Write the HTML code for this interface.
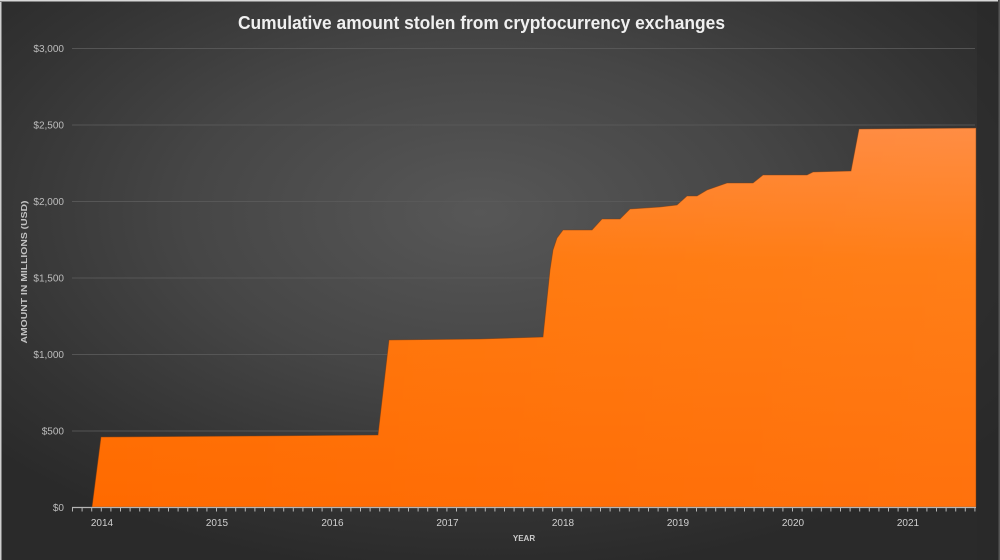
<!DOCTYPE html>
<html>
<head>
<meta charset="utf-8">
<style>
  html,body{margin:0;padding:0;background:#2e2e2e;}
  svg{display:block;}
  text{font-family:"Liberation Sans",sans-serif;}
</style>
</head>
<body>
<svg width="1000" height="560" viewBox="0 0 1000 560" xmlns="http://www.w3.org/2000/svg">
  <defs>
    <radialGradient id="bg" cx="48%" cy="38%" r="65%" fx="48%" fy="38%">
      <stop offset="0%" stop-color="#575757"/>
      <stop offset="45%" stop-color="#464646"/>
      <stop offset="80%" stop-color="#333333"/>
      <stop offset="100%" stop-color="#2a2a2a"/>
    </radialGradient>
    <linearGradient id="org" x1="0" y1="128" x2="0" y2="507" gradientUnits="userSpaceOnUse">
      <stop offset="0%" stop-color="#ff873a"/>
      <stop offset="35%" stop-color="#ff780c"/>
      <stop offset="100%" stop-color="#ff6a00"/>
    </linearGradient>
    <linearGradient id="shine" x1="0" y1="0" x2="1" y2="0">
      <stop offset="0%" stop-color="#ffffff" stop-opacity="0"/>
      <stop offset="100%" stop-color="#ffffff" stop-opacity="0.05"/>
    </linearGradient>
  </defs>

  <rect x="0" y="0" width="1000" height="560" fill="url(#bg)"/>
  <rect x="977" y="0" width="23" height="560" fill="#2a2a2a" opacity="0.6"/>

  <rect x="0" y="0" width="998" height="1.5" fill="#d8d8d8"/>
  <rect x="0" y="2" width="1.5" height="558" fill="#cfcfcf"/>
  <rect x="998.5" y="0" width="1.5" height="560" fill="#555"/>

  <text x="238" y="29" font-size="18" font-weight="bold" fill="#f0f0f0" textLength="487" lengthAdjust="spacingAndGlyphs">Cumulative amount stolen from cryptocurrency exchanges</text>

  <g stroke="#5a5a5a" stroke-width="1" stroke-opacity="0.85">
    <line x1="72" y1="48.5" x2="975" y2="48.5"/>
    <line x1="72" y1="125" x2="975" y2="125"/>
    <line x1="72" y1="201.5" x2="975" y2="201.5"/>
    <line x1="72" y1="278" x2="975" y2="278"/>
    <line x1="72" y1="354.5" x2="975" y2="354.5"/>
    <line x1="72" y1="431" x2="975" y2="431"/>
  </g>

  <g font-size="10" fill="#bdbdbd" text-anchor="end">
    <text x="64" y="52">$3,000</text>
    <text x="64" y="128.5">$2,500</text>
    <text x="64" y="205">$2,000</text>
    <text x="64" y="281.5">$1,500</text>
    <text x="64" y="358">$1,000</text>
    <text x="64" y="434.5">$500</text>
    <text x="64" y="511">$0</text>
  </g>

  <text transform="translate(27,272) rotate(-90)" font-size="8" font-weight="bold" fill="#c2c2c2" text-anchor="middle" textLength="143" lengthAdjust="spacingAndGlyphs">AMOUNT IN MILLIONS (USD)</text>

  <path d="M92,507 L101,437 L250,436 L378,435 L389,340 L480,339 L543,337 L550,270 L553,250 L557,238 L563,230 L592,230 L602,219 L620,219 L630,209 L660,207 L677,205 L687,196 L697,196 L707,190 L727,183 L753,183 L763,175 L807,175 L813,172 L851,171 L859,129 L976,128 L976,507 Z"
        fill="url(#org)" stroke="#7a3a10" stroke-width="0.8" stroke-opacity="0.6"/>
  <path d="M92,507 L101,437 L250,436 L378,435 L389,340 L480,339 L543,337 L550,270 L553,250 L557,238 L563,230 L592,230 L602,219 L620,219 L630,209 L660,207 L677,205 L687,196 L697,196 L707,190 L727,183 L753,183 L763,175 L807,175 L813,172 L851,171 L859,129 L976,128 L976,507 Z"
        fill="url(#shine)"/>

  <line x1="72" y1="507.5" x2="976" y2="507.5" stroke="#b5b5b5" stroke-width="1.2"/>
  <g stroke="#b5b5b5" stroke-width="1" id="ticks"></g>

  <g font-size="10" fill="#d0d0d0" text-anchor="middle">
    <text x="102" y="526">2014</text>
    <text x="217" y="526">2015</text>
    <text x="332.5" y="526">2016</text>
    <text x="447.5" y="526">2017</text>
    <text x="563" y="526">2018</text>
    <text x="678" y="526">2019</text>
    <text x="793" y="526">2020</text>
    <text x="908" y="526">2021</text>
  </g>
  <text x="524" y="541" font-size="8" font-weight="bold" fill="#cccccc" text-anchor="middle">YEAR</text>

  <script>
    (function(){
      var g=document.getElementById('ticks');
      var ns='http://www.w3.org/2000/svg';
      for(var k=0;k<=94;k++){
        var x=72.5+k*9.6;
        if(x>976.5)break;
        var l=document.createElementNS(ns,'line');
        l.setAttribute('x1',x);l.setAttribute('x2',x);
        l.setAttribute('y1',507);l.setAttribute('y2',511.5);
        g.appendChild(l);
      }
    })();
  </script>
</svg>
</body>
</html>
